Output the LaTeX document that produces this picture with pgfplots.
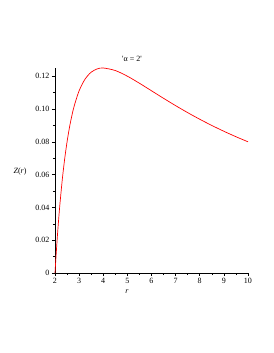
\documentclass[border=0pt]{standalone}
\usepackage{fontspec}
\setmainfont{Liberation Serif}
\usepackage{pgfplots}
\pgfplotsset{compat=1.18}
\begin{document}
\begin{tikzpicture}[x=1pt,y=1pt]
\begin{axis}[
  at={(0,0)}, anchor=south west,
  scale only axis, width=193pt, height=205pt,
  xmin=2, xmax=10, ymin=0, ymax=0.125,
  axis lines*=left,
  axis line style={black, line width=0.6pt},
  tick align=outside,
  tick style={black, line width=0.5pt},
  major tick length=3pt, minor tick length=2pt,
  xtick={2,3,4,5,6,7,8,9,10},
  ytick={0,0.02,0.04,0.06,0.08,0.1,0.12},
  yticklabels={0,0.02,0.04,0.06,0.08,0.10,0.12},
  minor x tick num=1, minor y tick num=1,
  /pgf/number format/assume math mode=true,
  tick label style={font=\fontsize{8}{9}\selectfont},
  xticklabel style={yshift=1pt},
  yticklabel style={xshift=1pt},
  clip=false,
]
\addplot[red, line width=0.7pt, smooth] coordinates {
(2,0) (2.02,0.004901) (2.05,0.011898) (2.1,0.022676) (2.15,0.03245)
(2.2,0.041322) (2.3,0.056711) (2.4,0.069444) (2.5,0.08) (2.6,0.088757)
(2.7,0.096022) (2.8,0.102041) (3,0.111111) (3.25,0.118343) (3.5,0.122449)
(3.75,0.124444) (4,0.125) (4.5,0.123457) (5,0.12) (5.5,0.115702)
(6,0.111111) (6.5,0.106509) (7,0.102041) (7.5,0.097778) (8,0.09375)
(8.5,0.089965) (9,0.08642) (9.5,0.083102) (10,0.08)
};
\end{axis}
\node[font=\fontsize{8}{9}\selectfont] at (77pt,214pt) {\textquotesingle α = 2\textquotesingle};
\node[font=\fontsize{8}{9}\selectfont] at (-35pt,101pt) {\textit{Z}(\textit{r})};
\node[font=\fontsize{8}{9}\selectfont] at (72pt,-19pt) {\textit{r}};
\pgfresetboundingbox
\useasboundingbox (-55pt,-80pt) rectangle (218pt,273pt);
\end{tikzpicture}
\end{document}
